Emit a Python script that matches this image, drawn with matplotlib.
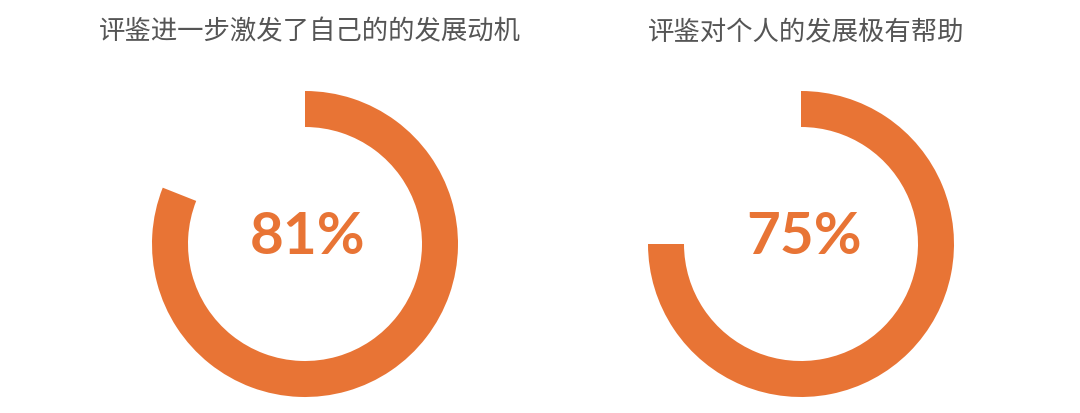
import matplotlib

matplotlib.use("Agg")
import matplotlib.pyplot as plt

plt.rcParams["font.family"] = ["Noto Sans CJK SC", "DejaVu Sans"]

# data
titles = ["评鉴进一步激发了自己的的发展动机", "评鉴对个人的发展极有帮助"]
percents = [81, 75]
labels = ["81%", "75%"]

ORANGE = "#E87435"
W, H = 1080, 414
centers_px = [(305, 245), (801, 245)]   # ring centres in pixels (from top-left)
radius_px = 153
ring_px = 36

fig = plt.figure(figsize=(W / 100, H / 100), dpi=100)

for (cx, cy), pct, lab, title in zip(centers_px, percents, labels, titles):
    ax = fig.add_axes([(cx - radius_px) / W, (H - cy - radius_px) / H,
                       2 * radius_px / W, 2 * radius_px / H])
    ax.pie([pct, 100 - pct], colors=[ORANGE, "none"], startangle=90,
           counterclock=False, radius=1,
           wedgeprops=dict(width=ring_px / radius_px, linewidth=0))
    ax.set_xlim(-1, 1); ax.set_ylim(-1, 1)
    ax.set_aspect("equal")
    ax.axis("off")
    ax.text(0.02, 0.05, lab, ha="center", va="center", color=ORANGE,
            fontsize=42, fontweight="bold", family=["Lato", "DejaVu Sans"])
    fig.text((cx + 5) / W, 1 - 32 / H, title, ha="center", va="center",
             fontsize=19, color="#555555")

fig.savefig("out.png", dpi=100)
plt.close(fig)
